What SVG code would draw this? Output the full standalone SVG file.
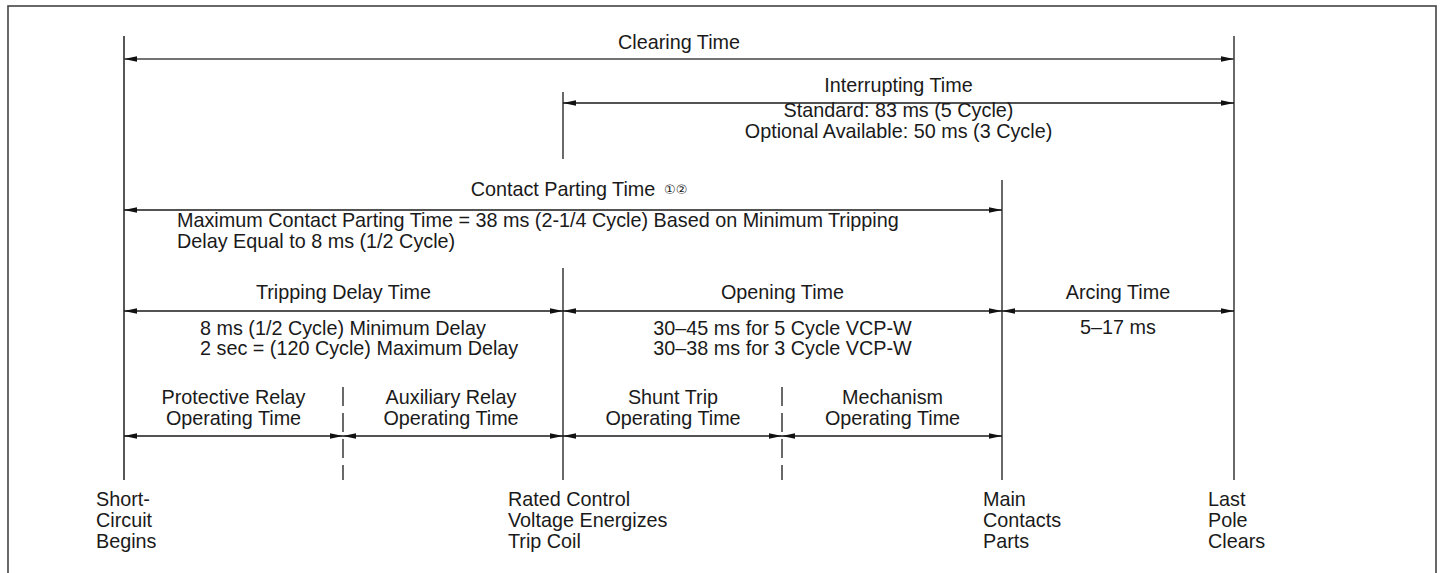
<svg xmlns="http://www.w3.org/2000/svg" width="1441" height="573" viewBox="0 0 1441 573">
  <style>
    .t { font-family: "Liberation Sans", Arial, "DejaVu Sans", sans-serif; font-size: 19.8px; fill: #1a1a1a; }
    .m { text-anchor: middle; }
    .sup { font-family: "DejaVu Sans", "Noto Sans CJK JP", sans-serif; font-size: 13px; fill: #1a1a1a; }
    .v { stroke: #1a1a1a; stroke-width: 1.3; fill: none; }
    .vg { stroke: #444; stroke-width: 1.8; fill: none; }
    .d { stroke: #1a1a1a; stroke-width: 1.3; fill: none; stroke-dasharray: 19 7; }
    .a { stroke: #1a1a1a; stroke-width: 1.3; fill: none; marker-start: url(#ah); marker-end: url(#ah); }
    .ag { stroke: #444; stroke-width: 1.6; fill: none; marker-start: url(#ah); marker-end: url(#ah); }
  </style>
  <defs>
    <marker id="ah" markerUnits="userSpaceOnUse" markerWidth="14" markerHeight="6" refX="13" refY="2.75" orient="auto-start-reverse">
      <path d="M0,0 L13,2.75 L0,5.5 Z" fill="#111"/>
    </marker>
  </defs>
  <rect x="0" y="0" width="1441" height="573" fill="#fff"/>
  <rect id="frame" x="8" y="6" width="1428" height="620" fill="none" stroke="#444" stroke-width="1.6"/>

  <g id="connectors">
    <line class="vg" x1="124" y1="36" x2="124" y2="480"/>
    <line class="v" x1="563" y1="92" x2="563" y2="159"/>
    <line class="v" x1="563" y1="268" x2="563" y2="480"/>
    <line class="v" x1="1002" y1="180" x2="1002" y2="480"/>
    <line class="v" x1="1234" y1="36" x2="1234" y2="480"/>
    <line class="d" x1="343" y1="387" x2="343" y2="480"/>
    <line class="d" x1="782" y1="387" x2="782" y2="480"/>

    <line class="ag" x1="124" y1="59" x2="1234" y2="59"/>
    <line class="a" x1="563" y1="103" x2="1234" y2="103"/>
    <line class="a" x1="124" y1="210" x2="1002" y2="210"/>
    <line class="a" x1="124" y1="311" x2="563" y2="311"/>
    <line class="a" x1="563" y1="311" x2="1002" y2="311"/>
    <line class="a" x1="1002" y1="311" x2="1234" y2="311"/>
    <line class="a" x1="124" y1="436" x2="343" y2="436"/>
    <line class="a" x1="343" y1="436" x2="563" y2="436"/>
    <line class="a" x1="563" y1="436" x2="782" y2="436"/>
    <line class="a" x1="782" y1="436" x2="1002" y2="436"/>
  </g>

  <g id="clearing-time">
    <text class="t m" x="679" y="49">Clearing Time</text>
  </g>
  <g id="interrupting-time">
    <text class="t m" x="898.5" y="92">Interrupting Time</text>
    <text class="t m" x="898.5" y="117">Standard: 83 ms (5 Cycle)</text>
    <text class="t m" x="898.5" y="138">Optional Available: 50 ms (3 Cycle)</text>
  </g>
  <g id="contact-parting-time">
    <text class="t m" x="563" y="196">Contact Parting Time</text>
    <text class="sup" x="664" y="194">①②</text>
    <text class="t" x="177" y="227">Maximum Contact Parting Time = 38 ms (2-1/4 Cycle) Based on Minimum Tripping</text>
    <text class="t" x="177" y="248">Delay Equal to 8 ms (1/2 Cycle)</text>
  </g>
  <g id="tripping-delay-time">
    <text class="t m" x="343.5" y="299">Tripping Delay Time</text>
    <text class="t" x="200" y="335">8 ms (1/2 Cycle) Minimum Delay</text>
    <text class="t" x="200" y="355">2 sec = (120 Cycle) Maximum Delay</text>
  </g>
  <g id="opening-time">
    <text class="t m" x="782.5" y="299">Opening Time</text>
    <text class="t m" x="782.5" y="335">30–45 ms for 5 Cycle VCP-W</text>
    <text class="t m" x="782.5" y="355">30–38 ms for 3 Cycle VCP-W</text>
  </g>
  <g id="arcing-time">
    <text class="t m" x="1118" y="299">Arcing Time</text>
    <text class="t m" x="1118" y="334">5–17 ms</text>
  </g>
  <g id="protective-relay">
    <text class="t m" x="233.5" y="404">Protective Relay</text>
    <text class="t m" x="233.5" y="425">Operating Time</text>
  </g>
  <g id="auxiliary-relay">
    <text class="t m" x="451" y="404">Auxiliary Relay</text>
    <text class="t m" x="451" y="425">Operating Time</text>
  </g>
  <g id="shunt-trip">
    <text class="t m" x="673" y="404">Shunt Trip</text>
    <text class="t m" x="673" y="425">Operating Time</text>
  </g>
  <g id="mechanism">
    <text class="t m" x="892.5" y="404">Mechanism</text>
    <text class="t m" x="892.5" y="425">Operating Time</text>
  </g>
  <g id="short-circuit">
    <text class="t" x="96" y="506">Short-</text>
    <text class="t" x="96" y="527">Circuit</text>
    <text class="t" x="96" y="548">Begins</text>
  </g>
  <g id="rated-control">
    <text class="t" x="508" y="506">Rated Control</text>
    <text class="t" x="508" y="527">Voltage Energizes</text>
    <text class="t" x="508" y="548">Trip Coil</text>
  </g>
  <g id="main-contacts">
    <text class="t" x="983" y="506">Main</text>
    <text class="t" x="983" y="527">Contacts</text>
    <text class="t" x="983" y="548">Parts</text>
  </g>
  <g id="last-pole">
    <text class="t" x="1208" y="506">Last</text>
    <text class="t" x="1208" y="527">Pole</text>
    <text class="t" x="1208" y="548">Clears</text>
  </g>
</svg>
